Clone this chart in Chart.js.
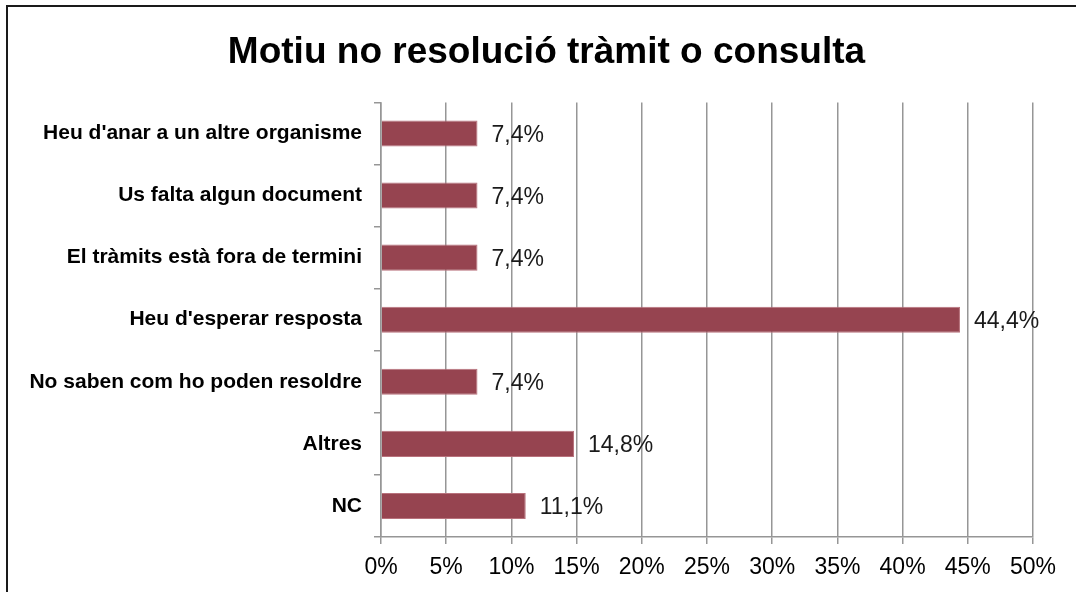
<!DOCTYPE html>
<html>
<head>
<meta charset="utf-8">
<script src="https://cdn.jsdelivr.net/npm/chart.js@4"></script>
<style>
  html, body { margin: 0; padding: 0; background: #fff; overflow: hidden; }
  #wrap { position: relative; width: 1076px; height: 592px; }
  #frame { position: absolute; left: 6px; top: 5px; width: 1200px; height: 800px; border: 2px solid #1a1a1a; pointer-events: none; }
</style>
</head>
<body>
<div id="wrap">
  <canvas id="chart" width="1076" height="592"></canvas>
  <div id="frame"></div>
</div>
<script>
const categories = [
  "Heu d'anar a un altre organisme",
  "Us falta algun document",
  "El tràmits està fora de termini",
  "Heu d'esperar resposta",
  "No saben com ho poden resoldre",
  "Altres",
  "NC"
];
const values = [7.4, 7.4, 7.4, 44.4, 7.4, 14.8, 11.1];
const valueLabels = ["7,4%", "7,4%", "7,4%", "44,4%", "7,4%", "14,8%", "11,1%"];

const fontFam = "'Liberation Sans', Arial, sans-serif";

// etiquetes de valor al final de cada barra
const barLabels = {
  id: 'barLabels',
  afterLayout(chart) {
    // el títol queda centrat una mica més a la dreta
    if (chart.titleBlock) {
      chart.titleBlock.left += 60;
    }
  },
  afterDatasetsDraw(chart) {
    const ctx = chart.ctx;
    const meta = chart.getDatasetMeta(0);
    ctx.save();
    ctx.font = '23px ' + fontFam;
    ctx.fillStyle = '#1a1a1a';
    ctx.textAlign = 'left';
    ctx.textBaseline = 'middle';
    meta.data.forEach((bar, i) => {
      ctx.fillText(valueLabels[i], bar.x + 14, bar.y + 2);
    });
    ctx.restore();
  }
};

new Chart(document.getElementById('chart'), {
  type: 'bar',
  data: {
    labels: categories,
    datasets: [{
      data: values,
      backgroundColor: '#964450',
      borderColor: '#b8727c',
      borderWidth: 1,
      barPercentage: 0.42,
      categoryPercentage: 1
    }]
  },
  options: {
    indexAxis: 'y',
    responsive: false,
    animation: false,
    layout: { padding: { left: 0, right: 43, top: 0, bottom: 0 } },
    plugins: {
      legend: { display: false },
      tooltip: { enabled: false },
      title: {
        display: true,
        text: 'Motiu no resolució tràmit o consulta',
        color: '#000',
        font: { family: fontFam, size: 37, weight: 'bold' },
        padding: { top: 31, bottom: 27 }
      }
    },
    scales: {
      x: {
        min: 0,
        max: 50,
        ticks: {
          stepSize: 5,
          color: '#000',
          font: { family: fontFam, size: 23 },
          padding: 10,
          maxRotation: 0,
          callback: v => v + '%'
        },
        grid: { color: '#969696', lineWidth: 1.5, tickLength: 7 },
        border: { color: '#969696', width: 1.5 },
        afterFit: s => { s.height = 55; }
      },
      y: {
        ticks: {
          color: '#000',
          font: { family: fontFam, size: 21, weight: 'bold' },
          padding: 12
        },
        grid: { drawOnChartArea: false, color: '#969696', lineWidth: 1.5, tickLength: 7 },
        border: { color: '#969696', width: 1.5 },
        afterFit: s => { s.width = 381; }
      }
    }
  },
  plugins: [barLabels]
});
</script>
</body>
</html>
